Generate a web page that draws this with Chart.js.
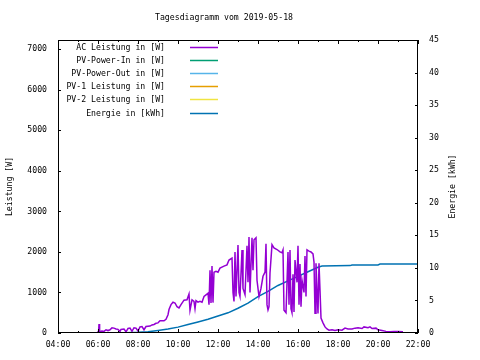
<!DOCTYPE html>
<html>
<head>
<meta charset="utf-8">
<script src="https://cdn.jsdelivr.net/npm/chart.js@4/dist/chart.umd.min.js"></script>
<style>
  body { margin: 0; background: #fff; }
  #wrap { width: 480px; height: 360px; }
</style>
</head>
<body>
<div id="wrap"><canvas id="tag" width="480" height="360"></canvas></div>
<script>
// Tagesdiagramm 2019-05-18, Zeit in Stunden
const acHours = [5.97, 6.03, 6.05, 6.08, 6.2, 6.3, 6.4, 6.5, 6.6, 6.7, 6.8, 6.9, 7.0, 7.1, 7.15, 7.3, 7.4, 7.5, 7.6, 7.7, 7.8, 7.9, 8.0, 8.1, 8.2, 8.3, 8.4, 8.6, 8.7, 8.8, 8.9, 9.0, 9.1, 9.3, 9.4, 9.5, 9.55, 9.65, 9.75, 9.85, 9.95, 10.05, 10.15, 10.3, 10.45, 10.55, 10.6, 10.7, 10.8, 10.85, 10.9, 11.0, 11.1, 11.2, 11.3, 11.4, 11.5, 11.55, 11.6, 11.65, 11.7, 11.75, 11.8, 11.9, 12.0, 12.1, 12.3, 12.45, 12.55, 12.7, 12.75, 12.8, 12.85, 12.9, 13.0, 13.05, 13.1, 13.2, 13.25, 13.35, 13.45, 13.5, 13.55, 13.6, 13.7, 13.75, 13.8, 13.9, 13.95, 14.05, 14.15, 14.25, 14.35, 14.4, 14.45, 14.5, 14.55, 14.6, 14.7, 14.8, 14.95, 15.1, 15.2, 15.25, 15.3, 15.4, 15.5, 15.55, 15.6, 15.65, 15.7, 15.75, 15.8, 15.85, 15.95, 16.0, 16.05, 16.1, 16.15, 16.2, 16.3, 16.35, 16.4, 16.45, 16.55, 16.65, 16.75, 16.8, 16.85, 16.9, 16.95, 17.0, 17.05, 17.1, 17.15, 17.25, 17.35, 17.45, 17.55, 17.7, 17.85, 18.0, 18.2, 18.35, 18.5, 18.7, 18.85, 19.0, 19.2, 19.3, 19.5, 19.6, 19.7, 19.9, 20.0, 20.2, 20.4, 20.6, 20.8, 21.0, 21.25]
const acWatts = [30, 40, 220, 30, 50, 40, 80, 60, 80, 130, 120, 100, 90, 40, 90, 100, 30, 110, 120, 40, 130, 120, 50, 150, 160, 80, 160, 170, 200, 210, 240, 250, 300, 300, 340, 450, 580, 700, 760, 740, 650, 620, 700, 810, 820, 960, 560, 820, 780, 600, 800, 760, 780, 760, 900, 940, 980, 700, 1550, 740, 1650, 750, 1500, 1520, 1500, 1600, 1650, 1680, 1800, 1850, 1000, 780, 2000, 900, 2170, 1000, 900, 2050, 1100, 950, 2150, 1250, 2370, 1000, 2350, 1550, 2300, 2350, 1300, 900, 1100, 1400, 1500, 2200, 700, 570, 650, 1480, 2180, 2100, 2060, 2000, 1980, 2050, 560, 500, 2000, 700, 2050, 600, 500, 1450, 520, 1800, 1250, 2150, 700, 1700, 650, 1300, 1000, 1900, 900, 2050, 2020, 2000, 1950, 1750, 490, 1720, 1060, 480, 1720, 1060, 370, 250, 150, 100, 70, 80, 60, 80, 70, 120, 100, 100, 120, 130, 110, 150, 130, 150, 110, 120, 80, 60, 40, 30, 40, 35, 30]
const energyHours = [7.1, 8.0, 8.5, 9.0, 9.5, 10.0, 10.5, 11.0, 11.5, 12.0, 12.5, 13.0, 13.5, 14.0, 14.5, 15.0, 15.5, 16.0, 16.5, 17.0, 17.2, 18.6, 18.7, 20.0, 20.1, 22.0]
const energyKwh = [0, 0.1, 0.2, 0.4, 0.6, 0.9, 1.3, 1.7, 2.1, 2.6, 3.1, 3.8, 4.6, 5.6, 6.4, 7.3, 8.0, 8.7, 9.4, 10.1, 10.3, 10.35, 10.45, 10.45, 10.6, 10.6]
const pvInWatts = []
const pvOutWatts = []
const pv1Watts = []
const pv2Watts = []

const hourTicks = [4, 6, 8, 10, 12, 14, 16, 18, 20, 22]
const wattTicks = [0, 1000, 2000, 3000, 4000, 5000, 6000, 7000]
const kwhTicks = [0, 5, 10, 15, 20, 25, 30, 35, 40, 45]

const monoFont = { family: "'DejaVu Sans Mono', monospace", size: 8.2 }

function toPoints(xs, ys) {
  return xs.map((x, i) => ({ x: x, y: ys[i] }))
}

function hourLabel(v) {
  return (v < 10 ? '0' : '') + v + ':00'
}

// gnuplot-artiger Rahmen, Ticks nach innen, Legende rechtsbuendig, Titel
const gnuplotLook = {
  id: 'gnuplotLook',
  afterDraw(chart) {
    const ctx = chart.ctx
    const a = chart.chartArea
    const sx = chart.scales.x
    const sy = chart.scales.y
    const sy2 = chart.scales.y2
    ctx.save()
    ctx.strokeStyle = '#000'
    ctx.lineWidth = 1
    ctx.strokeRect(a.left + 0.5, a.top + 0.5, a.right - a.left - 1, a.bottom - a.top - 1)

    ctx.beginPath()
    for (let h = 4; h <= 22; h++) {
      const px = Math.round(sx.getPixelForValue(h)) + 0.5
      const len = h % 2 === 0 ? 4 : 2
      ctx.moveTo(px, a.bottom)
      ctx.lineTo(px, a.bottom - len)
      ctx.moveTo(px, a.top)
      ctx.lineTo(px, a.top + len)
    }
    wattTicks.forEach(v => {
      const py = Math.round(sy.getPixelForValue(v)) + 0.5
      ctx.moveTo(a.left, py)
      ctx.lineTo(a.left + 3, py)
    })
    kwhTicks.forEach(v => {
      const py = Math.round(sy2.getPixelForValue(v)) + 0.5
      ctx.moveTo(a.right, py)
      ctx.lineTo(a.right - 3, py)
    })
    ctx.stroke()

    ctx.fillStyle = '#000'
    ctx.font = monoFont.size + 'px ' + monoFont.family
    ctx.textBaseline = 'middle'

    // Legende
    chart.data.datasets.forEach((ds, i) => {
      const ly = Math.round(47 + i * 13.1) + 0.5
      ctx.textAlign = 'right'
      ctx.fillText(ds.label, 165, ly)
      ctx.strokeStyle = ds.borderColor
      ctx.lineWidth = 1.5
      ctx.beginPath()
      ctx.moveTo(190, ly)
      ctx.lineTo(218, ly)
      ctx.stroke()
    })

    ctx.textAlign = 'center'
    ctx.fillText('Tagesdiagramm vom 2019-05-18', 224, 18)

    const midY = (a.top + a.bottom) / 2
    ctx.translate(10, midY)
    ctx.rotate(-Math.PI / 2)
    ctx.fillText('Leistung [W]', 0, 0)
    ctx.rotate(Math.PI / 2)
    ctx.translate(-10, -midY)
    ctx.translate(453, midY)
    ctx.rotate(-Math.PI / 2)
    ctx.fillText('Energie [kWh]', 0, 0)
    ctx.restore()
  }
}

Chart.defaults.color = '#000'
Chart.defaults.font = monoFont

const ctx = document.getElementById('tag').getContext('2d')
const data = {
  datasets: [
    { label: 'AC Leistung in [W]', data: toPoints(acHours, acWatts), borderColor: '#9400d3', yAxisID: 'y' },
    { label: 'PV-Power-In in [W]', data: pvInWatts, borderColor: '#009e73', yAxisID: 'y' },
    { label: 'PV-Power-Out in [W]', data: pvOutWatts, borderColor: '#56b4e9', yAxisID: 'y' },
    { label: 'PV-1 Leistung in [W]', data: pv1Watts, borderColor: '#e69f00', yAxisID: 'y' },
    { label: 'PV-2 Leistung in [W]', data: pv2Watts, borderColor: '#f0e442', yAxisID: 'y' },
    { label: 'Energie in [kWh]', data: toPoints(energyHours, energyKwh), borderColor: '#0072b2', yAxisID: 'y2' }
  ]
}
data.datasets.forEach(ds => {
  ds.borderWidth = 1.5
  ds.pointRadius = 0
  ds.tension = 0
  ds.fill = false
})

const config = {
  type: 'line',
  data: data,
  options: {
    responsive: false,
    animation: false,
    layout: { padding: { top: 40, left: 0, right: 0, bottom: 0 } },
    plugins: { legend: { display: false }, tooltip: { enabled: false } },
    scales: {
      x: {
        type: 'linear',
        min: 4,
        max: 22,
        grid: { display: false, drawTicks: false },
        border: { display: false },
        afterBuildTicks: scale => { scale.ticks = hourTicks.map(v => ({ value: v })) },
        afterFit: scale => { scale.height = 27 },
        ticks: { padding: 7, maxRotation: 0, autoSkip: false, callback: v => hourLabel(v) }
      },
      y: {
        position: 'left',
        min: 0,
        max: 7229,
        grid: { display: false, drawTicks: false },
        border: { display: false },
        afterBuildTicks: scale => { scale.ticks = wattTicks.map(v => ({ value: v })) },
        afterFit: scale => { scale.width = 58 },
        ticks: { padding: 11, autoSkip: false, callback: v => String(v) }
      },
      y2: {
        position: 'right',
        min: 0,
        max: 45,
        grid: { display: false, drawTicks: false },
        border: { display: false },
        afterBuildTicks: scale => { scale.ticks = kwhTicks.map(v => ({ value: v })) },
        afterFit: scale => { scale.width = 62 },
        ticks: { padding: 11, autoSkip: false, callback: v => String(v) }
      }
    }
  },
  plugins: [gnuplotLook]
}
const chart = new Chart(ctx, config)
</script>
</body>
</html>
